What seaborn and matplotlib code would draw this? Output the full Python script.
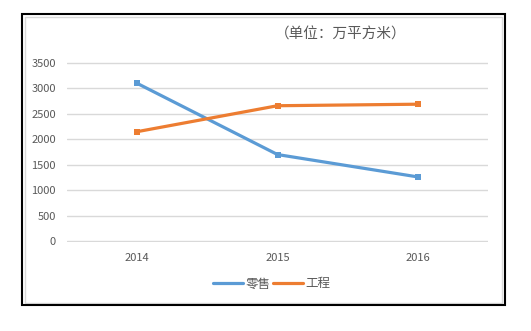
import matplotlib
matplotlib.use("Agg")
import matplotlib.pyplot as plt
import seaborn as sns
import pandas as pd
from matplotlib.patches import Rectangle
from matplotlib.lines import Line2D

years = ["2014", "2015", "2016"]
retail = [3100, 1700, 1260]
project = [2150, 2660, 2690]
series_names = ["零售", "工程"]
title = "（单位：万平方米）"
yticks = [0, 500, 1000, 1500, 2000, 2500, 3000, 3500]

sns.set_theme(style="white")
plt.rcParams['font.family'] = ['Noto Sans CJK SC', 'DejaVu Sans']

df = pd.DataFrame({
    "year": years * 2,
    "value": retail + project,
    "series": [series_names[0]] * 3 + [series_names[1]] * 3,
})

W, H = 531, 331
fig = plt.figure(figsize=(W / 100, H / 100), dpi=100)
ax = fig.add_axes([67 / W, (H - 242) / H, (488 - 67) / W, (242 - 62) / H])

palette = {series_names[0]: "#5B9BD5", series_names[1]: "#ED7D31"}
sns.lineplot(data=df, x="year", y="value", hue="series", palette=palette,
             marker="s", markersize=5, markeredgewidth=0, linewidth=2.3,
             sort=False, ax=ax, legend=False)

ax.set_ylim(-20, 3520)
ax.set_xlim(-0.5, 2.5)
ax.set_yticks(yticks)
ax.set_yticklabels([str(t) for t in yticks])
ax.grid(axis="y", color="#D9D9D9", linewidth=1)
ax.set_axisbelow(True)
for s in ax.spines.values():
    s.set_visible(False)
ax.tick_params(axis="both", length=0, labelsize=8, colors="#595959")
ax.tick_params(axis="y", pad=8)
ax.tick_params(axis="x", pad=8)
ax.set_xlabel("")
ax.set_ylabel("")

fig.text(341 / W, (H - 35) / H, title, ha="center", va="center",
         fontsize=10.5, color="#595959")

handles = [Line2D([], [], color=palette[n], linewidth=2.3) for n in series_names]
fig.legend(handles, series_names, loc="center", bbox_to_anchor=(272 / W, (H - 284) / H),
           ncol=2, frameon=False, fontsize=9, labelcolor="#595959",
           handlelength=2.4, handletextpad=0.2, columnspacing=0.2)

fig.patches.append(Rectangle((25 / W, (H - 303) / H), (502 - 25) / W, (303 - 17) / H,
                             transform=fig.transFigure, fill=False,
                             edgecolor="#D9D9D9", linewidth=1))
fig.patches.append(Rectangle((22 / W, (H - 305) / H), (505 - 22) / W, (305 - 14) / H,
                             transform=fig.transFigure, fill=False,
                             edgecolor="black", linewidth=1.5))

fig.savefig("out.png", dpi=100)
